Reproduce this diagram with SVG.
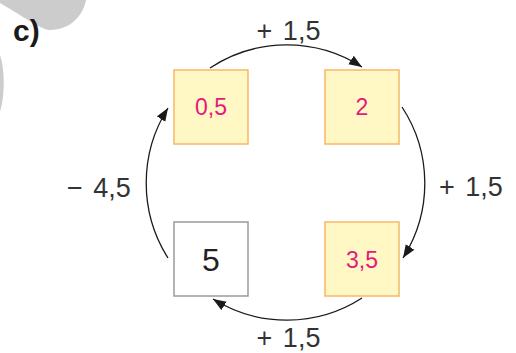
<svg xmlns="http://www.w3.org/2000/svg" width="516" height="353" viewBox="0 0 516 353">
<defs>
<marker id="ah" markerUnits="userSpaceOnUse" markerWidth="14" markerHeight="12" refX="13" refY="5" orient="auto">
<path d="M0,0 L13,5 L0,10 Z" fill="#1a1a1a"/>
</marker>
<style>
.box{fill:#fff8c4;stroke:#f7b766;stroke-width:1.5}
.gbox{fill:#ffffff;stroke:#9a9a9a;stroke-width:1.5}
.val{font-family:"Liberation Sans",Arial,sans-serif;font-size:23px;fill:#e5197e;text-anchor:middle}
.big{font-family:"Liberation Sans",Arial,sans-serif;font-size:32px;fill:#222;text-anchor:middle}
.lbl{font-family:"Liberation Sans",Arial,sans-serif;font-size:27px;fill:#333;word-spacing:3px}
.arc{fill:none;stroke:#1a1a1a;stroke-width:1.3;marker-end:url(#ah)}
</style>
</defs>
<rect width="516" height="353" fill="#ffffff"/>
<path d="M0,0 L86,0 C83,16 70,30 50,30 C44,30 38,26 0,3 Z" fill="#cccccc"/>
<path d="M0,55 C5,70 5,95 0,112 Z" fill="#cccccc"/>
<text x="13" y="41" font-family="Liberation Sans,Arial,sans-serif" font-size="30" font-weight="bold" fill="#1a1a1a">c)</text>
<g id="connectors">
<path class="arc" d="M210,68 A139,139 0 0 1 362,67"/>
<path class="arc" d="M402,107 A139,139 0 0 1 403,258"/>
<path class="arc" d="M362,298 A139,139 0 0 1 213,299"/>
<path class="arc" d="M168,258 A140,140 0 0 1 168,108"/>
<text class="lbl" x="288.5" y="40" text-anchor="middle">+ 1,5</text>
<text class="lbl" x="439" y="196">+ 1,5</text>
<text class="lbl" x="288.5" y="347" text-anchor="middle">+ 1,5</text>
<text class="lbl" x="67" y="197">− 4,5</text>
</g>
<g id="n05"><rect class="box" x="174" y="70" width="74" height="74"/><text class="val" x="211" y="115">0,5</text></g>
<g id="n2"><rect class="box" x="325" y="70" width="74" height="74"/><text class="val" x="362" y="115">2</text></g>
<g id="n35"><rect class="box" x="325" y="222" width="74" height="74"/><text class="val" x="362" y="268">3,5</text></g>
<g id="n5"><rect class="gbox" x="174" y="222" width="74" height="74"/><text class="big" x="211" y="271">5</text></g>
</svg>
